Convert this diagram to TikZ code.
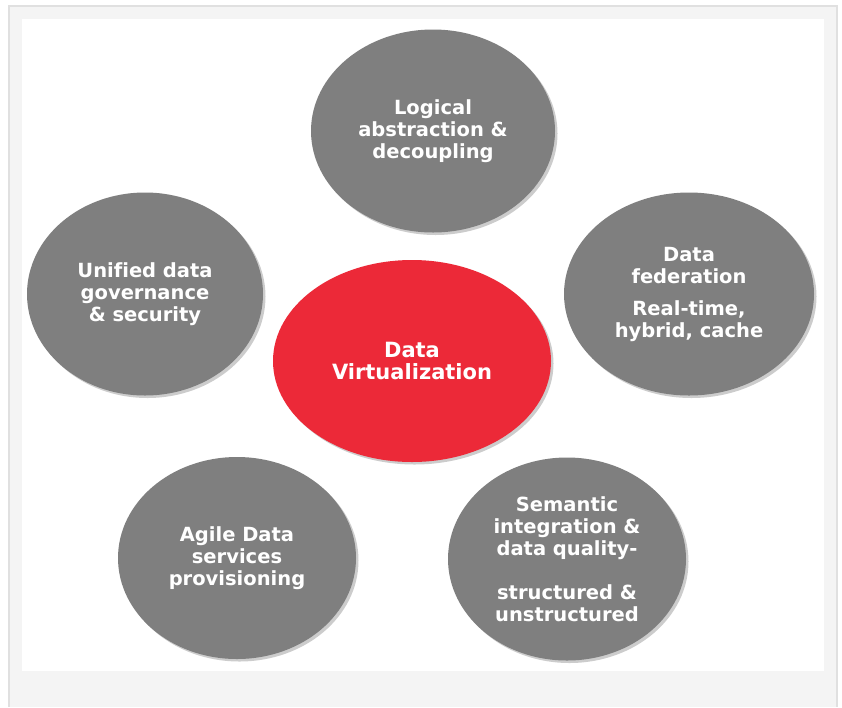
\documentclass[tikz,border=0pt]{standalone}
\usepackage{fontspec}
\setmainfont[Ligatures=NoCommon]{DejaVu Sans}
\usetikzlibrary{shapes.geometric,shadows}
\definecolor{dvred}{RGB}{236,41,56}
\definecolor{dvgray}{RGB}{127,127,127}
\definecolor{panelgray}{RGB}{244,244,244}
\definecolor{rulegray}{RGB}{224,224,224}
\begin{document}
\begin{tikzpicture}[x=1pt,y=-1pt,
    bubble/.style={ellipse,fill=dvgray,text=white,inner sep=0pt,align=center,
      font=\bfseries\fontsize{19.5}{22}\selectfont,
      drop shadow={opacity=0.4,shadow xshift=2.5pt,shadow yshift=-2.5pt}},
    hub/.style={bubble,fill=dvred,font=\bfseries\fontsize{21}{22}\selectfont}]
    \useasboundingbox (0,0) rectangle (842,707);
    \fill[panelgray] (9,6) rectangle (838,707);
    \draw[rulegray,line width=1.5pt] (9,707) -- (9,6) -- (837,6) -- (837,707);
    \fill[white] (22,19) rectangle (824,671);
      \node[hub,minimum width=278pt,minimum height=202pt] (virt) at (412,361) {Data\\Virtualization};
      \node[bubble,minimum width=244pt,minimum height=203pt] (logic) at (433,131) {Logical\\abstraction \&\\decoupling};
      \node[bubble,minimum width=236pt,minimum height=203pt] (gov) at (145,294) {Unified data\\governance\\\& security};
      \node[bubble,minimum width=250pt,minimum height=203pt] (fed) at (689,294) {Data\\federation\\[10pt]Real-time,\\hybrid, cache};
      \node[bubble,minimum width=238pt,minimum height=202pt] (agile) at (237,558) {Agile Data\\services\\provisioning};
      \node[bubble,minimum width=238pt,minimum height=203pt] (sem) at (567,559) {Semantic\\integration \&\\data quality-\\[22pt]structured \&\\unstructured};
\end{tikzpicture}
\end{document}
